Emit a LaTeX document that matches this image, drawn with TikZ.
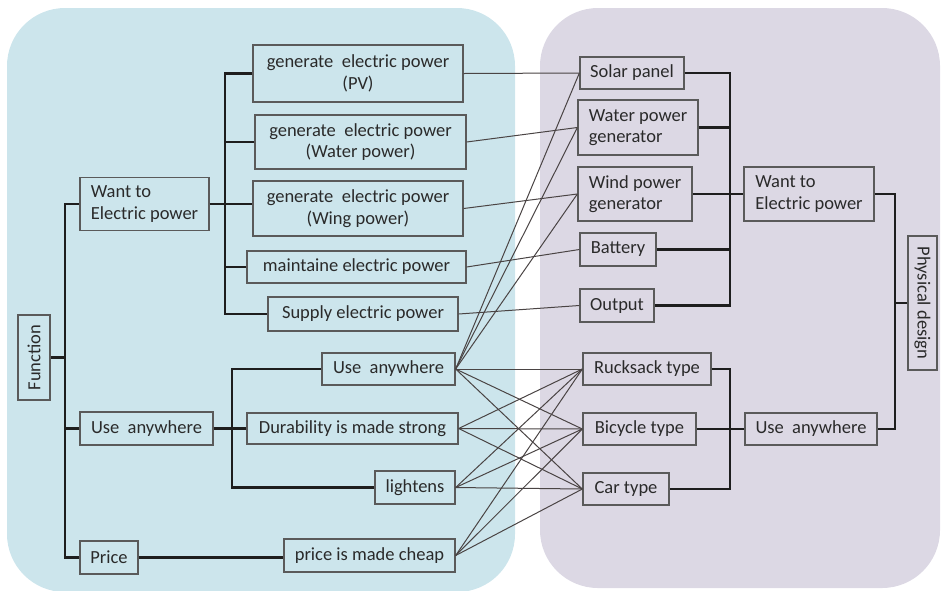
\documentclass[tikz,border=0pt]{standalone}
\usepackage{fontspec}
\setmainfont{Carlito}
\definecolor{leftbg}{HTML}{CCE5EC}
\definecolor{rightbg}{HTML}{DCD8E4}
\definecolor{boxgray}{HTML}{5A5A5A}
\definecolor{textgray}{HTML}{2A2A2A}
\definecolor{trunkcol}{HTML}{1E1E1E}
\definecolor{linkcol}{HTML}{4A4444}
\begin{document}
\begin{tikzpicture}[x=1pt,y=-1pt,
  box/.style={draw=boxgray, line width=1.3pt, inner sep=2pt, align=center,
    font=\fontsize{18.5}{21.5}\selectfont, text=textgray},
  trunk/.style={line width=2.4pt, draw=trunkcol},
  link/.style={line width=1pt, draw=linkcol},
]
\useasboundingbox (0,0) rectangle (941,590);
% background panels
\fill[leftbg, rounded corners=58pt] (7,8) rectangle (515,592);
\fill[rightbg, rounded corners=58pt] (540,8) rectangle (940,588);

% column positions of the trunk lines
\coordinate (c1) at (65,0);
\coordinate (c2) at (225,0);
\coordinate (c3) at (232,0);
\coordinate (c4) at (730,0);
\coordinate (c5) at (895,0);

% function side
\node[box, rotate=90, minimum width=85, minimum height=32] (fn) at (34,357.5) {Function};
\node[box, align=left, minimum width=129, minimum height=53] (wantL) at (144.5,204) {Want to\\Electric power};
\node[box, minimum width=133, minimum height=33] (useL) at (146.5,428.5) {Use\ \ anywhere};
\node[box, minimum width=58, minimum height=33] (price) at (109,557.5) {Price};

\node[box, minimum width=210, minimum height=57] (pv) at (358,73.5) {generate\ \ electric power\\(PV)};
\node[box, minimum width=211, minimum height=54] (water) at (360.5,142) {generate\ \ electric power\\(Water power)};
\node[box, minimum width=210, minimum height=55] (wing) at (358,208.5) {generate\ \ electric power\\(Wing power)};
\node[box, minimum width=219, minimum height=32] (maint) at (356.5,267) {maintaine electric power};
\node[box, minimum width=190, minimum height=34] (supply) at (363,314) {Supply electric power};
\node[box, minimum width=133, minimum height=32] (useM) at (388.5,369) {Use\ \ anywhere};
\node[box, minimum width=211, minimum height=31] (dur) at (352.5,428.5) {Durability is made strong};
\node[box, minimum width=80, minimum height=33] (light) at (415,487.5) {lightens};
\node[box, minimum width=171, minimum height=33] (cheap) at (369.5,555.5) {price is made cheap};

% physical side
\node[box, minimum width=104, minimum height=32] (solar) at (632,73) {Solar panel};
\node[box, align=left, minimum width=120, minimum height=55] (wgen) at (638,127.5) {Water power\\generator};
\node[box, align=left, minimum width=114, minimum height=54] (wdgen) at (635,194) {Wind power\\generator};
\node[box, minimum width=76, minimum height=33] (batt) at (618,249.5) {Battery};
\node[box, minimum width=74, minimum height=33] (out) at (617,305.5) {Output};
\node[box, align=left, minimum width=130, minimum height=54] (wantR) at (809,194) {Want to\\Electric power};
\node[box, minimum width=128, minimum height=32] (ruck) at (647,369) {Rucksack type};
\node[box, minimum width=113, minimum height=32] (bike) at (639.5,429) {Bicycle type};
\node[box, minimum width=86, minimum height=32] (car) at (626,489) {Car type};
\node[box, minimum width=132, minimum height=32] (useR) at (811,429) {Use\ \ anywhere};
\node[box, rotate=-90, minimum width=134, minimum height=29] (phys) at (922.5,303) {Physical design};

% tree on the function side
\draw[trunk] (wantL.west) -- (wantL.west -| c1) |- (price.west);
\draw[trunk] (useL.west) -- (useL.west -| c1);
\draw[trunk] (fn.south) -- (fn.south -| c1);
\draw[trunk] (wantL.east) -- (wantL.east -| wing.west);
\draw[trunk] (pv.west) -- (pv.west -| c2) |- (supply.west);
\draw[trunk] (water.west) -- (water.west -| c2);
\draw[trunk] (maint.west) -- (maint.west -| c2);
\draw[trunk] (useL.east) -- (useL.east -| dur.west);
\draw[trunk] (useM.west) -- (useM.west -| c3) |- (light.west);
\draw[trunk] (price.east) -- (price.east -| cheap.west);

% tree on the physical side
\draw[trunk] (solar.east) -- (solar.east -| c4) |- (out.east);
\draw[trunk] (wgen.east) -- (wgen.east -| c4);
\draw[trunk] (batt.east) -- (batt.east -| c4);
\draw[trunk] (wdgen.east) -- (wdgen.east -| wantR.west);
\draw[trunk] (ruck.east) -- (ruck.east -| c4) |- (car.east);
\draw[trunk] (bike.east) -- (bike.east -| useR.west);
\draw[trunk] (wantR.east) -- (wantR.east -| c5) |- (useR.east);
\draw[trunk] (phys.south) -- (phys.south -| c5);

% links between functions and components
\draw[link] (pv.east) -- (solar.west);
\draw[link] (water.east) -- (wgen.west);
\draw[link] (wing.east) -- (wdgen.west);
\draw[link] (maint.east) -- (batt.west);
\draw[link] (supply.east) -- (out.west);
\foreach \d in {solar,wgen,wdgen} \draw[link] (useM.east) -- (\d.west);
\foreach \s in {useM,dur,light,cheap}
  \foreach \d in {ruck,bike,car}
    \draw[link] (\s.east) -- (\d.west);
\end{tikzpicture}
\end{document}
